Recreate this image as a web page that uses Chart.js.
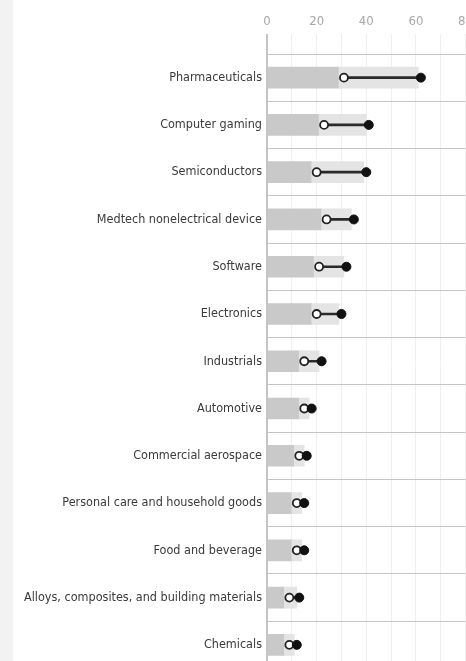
<!DOCTYPE html>
<html>
<head>
<meta charset="utf-8">
<script src="https://cdn.jsdelivr.net/npm/chart.js@4.4.1/dist/chart.umd.min.js"></script>
<style>
  html, body { margin: 0; padding: 0; background: #fff; overflow: hidden; }
  #strip { position: absolute; left: 0; top: 0; width: 13px; height: 661px; background: #f2f2f2; }
  #chart { position: absolute; left: 0; top: 0; }
</style>
</head>
<body>
<div id="strip"></div>
<canvas id="chart" width="478" height="681"></canvas>
<script>
const categories = [
  "Pharmaceuticals",
  "Computer gaming",
  "Semiconductors",
  "Medtech nonelectrical device",
  "Software",
  "Electronics",
  "Industrials",
  "Automotive",
  "Commercial aerospace",
  "Personal care and household goods",
  "Food and beverage",
  "Alloys, composites, and building materials",
  "Chemicals"
];
// open (white) circle and filled (black) dot
const openValues = [31, 23, 20, 24, 21, 20, 15, 15, 13, 12, 12, 9, 9];
const filledValues = [62, 41, 40, 35, 32, 30, 22, 18, 16, 15, 15, 13, 12];
// grey bars behind the dots
const barDark = [29, 21, 18, 22, 19, 18, 13, 13, 11, 10, 10, 7, 7];
const barLight = [61, 40, 39, 34, 31, 29, 21, 17, 15, 14, 14, 12, 11];
const xTicks = [0, 20, 40, 60, 80];

// pick a size so the condensed label font matches the reference width
const FAMILY = "'Liberation Sans Narrow', 'DejaVu Sans Condensed', 'Liberation Sans', sans-serif";
const probe = document.createElement("canvas").getContext("2d");
probe.font = "15px " + FAMILY;
const labelSize = Math.round(15 * 94 / probe.measureText("Pharmaceuticals").width * 2) / 2;
const tickSize = Math.round(15 * 15 / probe.measureText("20").width * 2) / 2;

const ctx = document.getElementById("chart").getContext("2d");
new Chart(ctx, {
  data: {
    labels: categories,
    datasets: [
      {
        type: "line", label: "filled", data: filledValues, showLine: false,
        pointRadius: 4.5, pointBackgroundColor: "#111", pointBorderColor: "#111",
        pointBorderWidth: 1, order: 0
      },
      {
        type: "line", label: "open", data: openValues, showLine: false,
        pointRadius: 4, pointBackgroundColor: "#fff", pointBorderColor: "#222",
        pointBorderWidth: 1.8, order: 1
      },
      {
        type: "bar", label: "range", data: openValues.map((v, i) => [v, filledValues[i]]),
        backgroundColor: "#2a2a2a", barThickness: 2, grouped: false, order: 2
      },
      {
        type: "bar", label: "light", data: barDark.map((v, i) => [v, barLight[i]]),
        backgroundColor: "#e4e4e4", barThickness: 21, grouped: false, order: 3
      },
      {
        type: "bar", label: "dark", data: barDark.map(v => [0, v]),
        backgroundColor: "#c9c9c9", barThickness: 21, grouped: false, order: 4
      }
    ]
  },
  options: {
    indexAxis: "y",
    responsive: false,
    animation: false,
    layout: { padding: 0 },
    plugins: { legend: { display: false }, tooltip: { enabled: false } },
    scales: {
      x: {
        position: "top",
        min: 0, max: 80,
        afterFit: s => { s.height = 54; },
        afterBuildTicks: s => { s.ticks = []; for (let v = 0; v <= 80; v += 10) s.ticks.push({ value: v }); },
        ticks: {
          padding: 5,
          color: "#a8a8a8",
          font: { family: FAMILY, size: tickSize },
          maxRotation: 0,
          callback: v => xTicks.includes(v) ? String(v) : ""
        },
        border: { display: false },
        grid: {
          drawTicks: true,
          tickLength: 20,
          color: c => c.tick && c.tick.value === 0 ? "#c4c4c4" : "#efefef",
          lineWidth: c => c.tick && c.tick.value === 0 ? 2 : 1
        }
      },
      y: {
        afterFit: s => { s.width = 267; },
        ticks: {
          padding: 5,
          color: "#3a3a3a",
          font: { family: FAMILY, size: labelSize }
        },
        border: { display: false },
        grid: { offset: true, drawTicks: false, color: "#c4c4c4", lineWidth: 1 }
      }
    }
  }
});
</script>
</body>
</html>
